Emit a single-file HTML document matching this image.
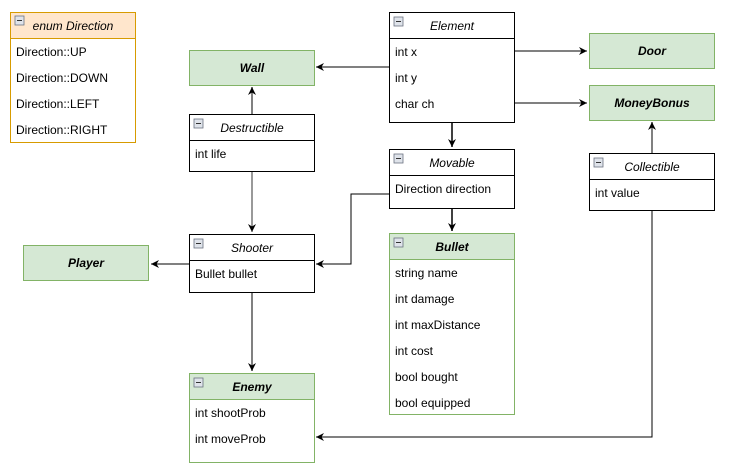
<!DOCTYPE html>
<html><head><meta charset="utf-8"><style>
html,body{margin:0;padding:0;background:#fff;}
svg{display:block;}
text{font-family:"Liberation Sans",Arial,sans-serif;font-size:12px;fill:#000;}
.h{font-style:italic;}
.hb{font-style:italic;font-weight:bold;}
</style></head><body>
<svg width="729" height="476" viewBox="0 0 729 476" xmlns="http://www.w3.org/2000/svg">
<defs>
<marker id="a" markerWidth="10" markerHeight="10" refX="8" refY="4" orient="auto" markerUnits="userSpaceOnUse">
<path d="M0,0 L8,4 L0,8 L2.5,4 Z" fill="#000"/>
</marker>
<g id="mi"><rect x="0" y="0" width="9" height="9" fill="#dfe3ea" stroke="#6b7280" stroke-width="0.8"/><line x1="2" y1="4.5" x2="7" y2="4.5" stroke="#333" stroke-width="1"/></g>
</defs>

<!-- connectors -->
<g stroke="#000" stroke-width="1" fill="none">
<line x1="389" y1="67" x2="316" y2="67" marker-end="url(#a)"/>
<line x1="514" y1="51" x2="587" y2="51" marker-end="url(#a)"/>
<line x1="514" y1="103" x2="587" y2="103" marker-end="url(#a)"/>
<line x1="452" y1="122" x2="452" y2="147" marker-end="url(#a)" stroke-width="1.5"/>
<line x1="452" y1="208" x2="452" y2="231" marker-end="url(#a)" stroke-width="1.5"/>
<line x1="252" y1="114" x2="252" y2="87" marker-end="url(#a)" stroke-width="1.5" stroke="#555"/>
<line x1="252" y1="171" x2="252" y2="232" marker-end="url(#a)" stroke="#333"/>
<polyline points="389,194 351,194 351,264 316,264" marker-end="url(#a)"/>
<line x1="189" y1="264" x2="151" y2="264" marker-end="url(#a)"/>
<line x1="252" y1="293" x2="252" y2="371" marker-end="url(#a)" stroke="#555" stroke-width="1.5"/>
<line x1="652" y1="153" x2="652" y2="122" marker-end="url(#a)" stroke="#555" stroke-width="1.5"/>
<polyline points="652,210 652,437 316,437" marker-end="url(#a)"/>
</g>

<!-- enum Direction -->
<rect x="10.5" y="12.5" width="125" height="130" fill="#fff" stroke="#d79b00"/>
<rect x="10.5" y="12.5" width="125" height="26" fill="#ffe6cc" stroke="#d79b00"/>
<use href="#mi" x="15" y="16"/>
<text x="73" y="30" class="h" text-anchor="middle">enum Direction</text>
<text x="16" y="56">Direction::UP</text>
<text x="16" y="82">Direction::DOWN</text>
<text x="16" y="108">Direction::LEFT</text>
<text x="16" y="134">Direction::RIGHT</text>

<!-- Wall -->
<rect x="189.5" y="50.5" width="125" height="35" fill="#d5e8d4" stroke="#82b366"/>
<text x="252" y="72" class="hb" text-anchor="middle">Wall</text>

<!-- Destructible -->
<rect x="189.5" y="114.5" width="125" height="57" fill="#fff" stroke="#000"/>
<line x1="189.5" y1="140.5" x2="314.5" y2="140.5" stroke="#000"/>
<use href="#mi" x="194" y="119"/>
<text x="252" y="132" class="h" text-anchor="middle">Destructible</text>
<text x="195" y="158">int life</text>

<!-- Element -->
<rect x="389.5" y="12.5" width="125" height="110" fill="#fff" stroke="#000"/>
<line x1="389.5" y1="38.5" x2="514.5" y2="38.5" stroke="#000"/>
<use href="#mi" x="394" y="17"/>
<text x="452" y="30" class="h" text-anchor="middle">Element</text>
<text x="395" y="56">int x</text>
<text x="395" y="82">int y</text>
<text x="395" y="108">char ch</text>

<!-- Door -->
<rect x="589.5" y="33.5" width="125" height="35" fill="#d5e8d4" stroke="#82b366"/>
<text x="652" y="55" class="hb" text-anchor="middle">Door</text>

<!-- MoneyBonus -->
<rect x="589.5" y="85.5" width="125" height="35" fill="#d5e8d4" stroke="#82b366"/>
<text x="652" y="107" class="hb" text-anchor="middle">MoneyBonus</text>

<!-- Movable -->
<rect x="389.5" y="149.5" width="125" height="59" fill="#fff" stroke="#000"/>
<line x1="389.5" y1="175.5" x2="514.5" y2="175.5" stroke="#000"/>
<use href="#mi" x="394" y="154"/>
<text x="452" y="167" class="h" text-anchor="middle">Movable</text>
<text x="395" y="193">Direction direction</text>

<!-- Collectible -->
<rect x="589.5" y="153.5" width="125" height="57" fill="#fff" stroke="#000"/>
<line x1="589.5" y1="179.5" x2="714.5" y2="179.5" stroke="#000"/>
<use href="#mi" x="594" y="158"/>
<text x="652" y="171" class="h" text-anchor="middle">Collectible</text>
<text x="595" y="197">int value</text>

<!-- Shooter -->
<rect x="189.5" y="234.5" width="125" height="58" fill="#fff" stroke="#000"/>
<line x1="189.5" y1="260.5" x2="314.5" y2="260.5" stroke="#000"/>
<use href="#mi" x="194" y="239"/>
<text x="252" y="252" class="h" text-anchor="middle">Shooter</text>
<text x="195" y="278">Bullet bullet</text>

<!-- Player -->
<rect x="23.5" y="245.5" width="125" height="35" fill="#d5e8d4" stroke="#82b366"/>
<text x="86" y="267" class="hb" text-anchor="middle">Player</text>

<!-- Bullet -->
<rect x="389.5" y="233.5" width="125" height="181" fill="#fff" stroke="#82b366"/>
<rect x="389.5" y="233.5" width="125" height="26" fill="#d5e8d4" stroke="#82b366"/>
<use href="#mi" x="394" y="238"/>
<text x="452" y="251" class="hb" text-anchor="middle">Bullet</text>
<text x="395" y="277">string name</text>
<text x="395" y="303">int damage</text>
<text x="395" y="329">int maxDistance</text>
<text x="395" y="355">int cost</text>
<text x="395" y="381">bool bought</text>
<text x="395" y="407">bool equipped</text>

<!-- Enemy -->
<rect x="189.5" y="373.5" width="125" height="89" fill="#fff" stroke="#82b366"/>
<rect x="189.5" y="373.5" width="125" height="26" fill="#d5e8d4" stroke="#82b366"/>
<use href="#mi" x="194" y="378"/>
<text x="252" y="391" class="hb" text-anchor="middle">Enemy</text>
<text x="195" y="417">int shootProb</text>
<text x="195" y="443">int moveProb</text>
</svg>
</body></html>
